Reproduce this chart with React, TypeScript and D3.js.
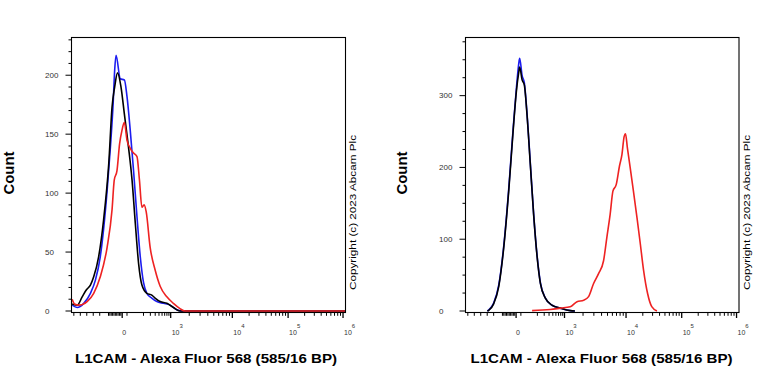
import React from 'react';
import * as d3 from 'd3';

// ---------- data (x in display channels 0-1000, y = count) ----------
const leftBlue: [number, number][] = [[2.5,5],[21,3],[44.7,6.5],[69,15],[87,26],[105,46],[117,69],[130,102],[142,139],[152,176],[157.5,204],[162.5,217],[178,197],[193,196],[202.5,182],[214.5,153],[226.5,119],[239,80],[251,46],[263,24],[275,15],[293,11],[311.6,8],[335.6,6.5],[360,5],[384,1],[402.5,0],[1000,0]];
const leftBlack: [number, number][] = [[2.5,6],[21,5],[39,12],[54.5,18],[69,22],[81,29],[99,46],[117,77],[136,125],[148,173],[157.5,190],[168,202],[180.7,190],[193,167],[208,139],[221,111],[233,74],[245,40],[257,22],[275,15],[293,13.5],[305,11],[323.6,8],[348,6.5],[372,3],[396,0],[1000,0]];
const leftRed: [number, number][] = [[2.5,10],[11,6],[26.5,5],[57,8],[81,15],[105,29],[130,54],[148,86],[156,111],[166,119],[175.6,142],[184,153],[193,160],[202.5,145],[214.5,138],[226.5,134],[239,131],[248,111],[257,88],[265,90],[272.7,84],[287,54],[305,35],[323.6,21],[348,12],[372,6.5],[396,2],[414.5,0],[1000,0]];

const rightBlue: [number, number][] = [[80,0],[85,1.5],[103,11],[121.5,36],[140,91],[158,170],[174,253],[186,310],[194.5,344],[198,352],[207,328],[215,318],[225,275],[237,206],[249,136],[262,76],[274,39],[292,18],[316.5,8],[347,4],[383,0.5],[400,0]];
const rightBlack: [number, number][] = [[80,0],[85,1],[103,10],[121.5,34],[140,89],[158,167],[174,250],[186,306],[194.5,332],[198,340],[207,322],[215,315],[225,273],[237,204],[249,135],[262,75],[274,38],[292,18],[316.5,8],[347,4],[383,0.5],[400,0]];
const rightRed: [number, number][] = [[243.5,0.5],[310,2],[347,4],[383,6],[407.7,13],[432,15],[450,20],[468,38],[486.5,52],[504.8,70],[517,103],[529,135],[539,167],[551,176],[563,202],[572,218],[580,243],[585,247],[592,227],[602,200],[614,167],[627,130],[639,94],[651,57],[666,24],[681,6],[700,0]];

const leftYMax = 232;
const rightYMax = 381;
const leftYMajor = [0, 50, 100, 150, 200];
const leftYMinorStep = 10;
const rightYMajor = [0, 100, 200, 300];
const rightYMinorStep = 25;

const xMajorTicks = [0, 1e3, 1e4, 1e5, 1e6];
const xTickLabels = [
  { v: 0, base: '0', exp: '' },
  { v: 1e3, base: '10', exp: '3' },
  { v: 1e4, base: '10', exp: '4' },
  { v: 1e5, base: '10', exp: '5' },
  { v: 1e6, base: '10', exp: '6' },
];
const xMinorTicks: number[] = [
  -600, -500, -400, -300, -200,
  -100, -90, -80, -70, -60, -50, -40, -30, -20, -10,
  50,
  200, 300, 400, 500, 600, 700, 800, 900,
  2e3, 3e3, 4e3, 5e3, 6e3, 7e3, 8e3, 9e3,
  2e4, 3e4, 4e4, 5e4, 6e4, 7e4, 8e4, 9e4,
  2e5, 3e5, 4e5, 5e5, 6e5, 7e5, 8e5, 9e5,
];

const xAxisTitle = 'L1CAM - Alexa Fluor 568 (585/16 BP)';
const yAxisTitle = 'Count';
const copyright = 'Copyright (c) 2023 Abcam Plc';

// ---------- biexponential display transform (intensity -> channel) ----------
const biexLog = d3.scaleLog().domain([100, 1e3, 1e4, 1e5, 1e6]).range([220, 362, 587, 790.5, 991]);
const biexLin = d3.scaleLinear().domain([-600, -200, -100, 0, 100]).range([8.5, 103, 135, 185, 220]);
const biex = (v: number) => (v >= 100 ? biexLog(v) : biexLin(v));

type Series = { data: [number, number][]; color: string };

function Panel(props: {
  x0: number; x1: number; top: number; bottom: number; y0: number;
  yMax: number; yMajor: number[]; yMinorStep: number; series: Series[];
  countX: number; copyX: number; titleX: number;
}) {
  const { x0, x1, top, bottom, y0, yMax, yMajor, yMinorStep, series } = props;
  const x = d3.scaleLinear().domain([0, 1000]).range([x0, x1]);
  const y = d3.scaleLinear().domain([0, yMax]).range([y0, top]);
  const line = d3.line<[number, number]>().x(d => x(d[0])).y(d => y(d[1])).curve(d3.curveMonotoneX);
  const yMinor = d3.range(0, yMax + 0.001, yMinorStep).filter(v => !yMajor.includes(v) && y(v) >= top + 1);
  return (
    <g>
      {/* curves */}
      <g fill="none" strokeWidth={1.6} strokeLinejoin="round">
        {series.map((s, i) => <path key={i} d={line(s.data) || ''} stroke={s.color} />)}
      </g>
      {/* frame */}
      <rect x={x0} y={top} width={x1 - x0} height={bottom - top} fill="none" stroke="#000" strokeWidth={1.1} />
      {/* y ticks */}
      {yMinor.map(v => <line key={'ym' + v} x1={x0 - 3} x2={x0} y1={y(v)} y2={y(v)} stroke="#000" strokeWidth={1} />)}
      {yMajor.map(v => <line key={'yM' + v} x1={x0 - 6} x2={x0} y1={y(v)} y2={y(v)} stroke="#000" strokeWidth={1} />)}
      {yMajor.map(v => (
        <text key={'yl' + v} x={x0 - 26.5} y={y(v)} dy="0.35em" fontSize={8} fill="#333" fontFamily="Liberation Sans, Arial, sans-serif">{v}</text>
      ))}
      {/* x ticks */}
      {xMinorTicks.map(v => <line key={'xm' + v} x1={x(biex(v))} x2={x(biex(v))} y1={bottom} y2={bottom + 3.3} stroke="#000" strokeWidth={1} />)}
      {xMajorTicks.map(v => <line key={'xM' + v} x1={x(biex(v))} x2={x(biex(v))} y1={bottom} y2={bottom + 5.5} stroke="#000" strokeWidth={1.3} />)}
      {xTickLabels.map(t => (
        <text key={'xl' + t.v} x={x(biex(t.v)) + (t.exp ? 1 : 0)} y={335} fontSize={7} fill="#333" fontFamily="Liberation Sans, Arial, sans-serif">
          {t.base}
          {t.exp && <tspan dy={-7} fontSize={6}>{t.exp}</tspan>}
        </text>
      ))}
      {/* titles */}
      <text x={props.titleX} y={363.3} textAnchor="middle" fontSize={13} fontWeight="bold" fill="#000"
        fontFamily="Liberation Sans, Arial, sans-serif" textLength={262} lengthAdjust="spacingAndGlyphs">{xAxisTitle}</text>
      <text transform={`translate(${props.countX},173) rotate(-90)`} textAnchor="middle" fontSize={14} fontWeight="bold" fill="#000"
        fontFamily="Liberation Sans, Arial, sans-serif" textLength={43} lengthAdjust="spacingAndGlyphs">{yAxisTitle}</text>
      <text transform={`translate(${props.copyX},212.5) rotate(-90)`} textAnchor="middle" fontSize={9.5} fill="#000"
        fontFamily="Liberation Sans, Arial, sans-serif" textLength={155} lengthAdjust="spacingAndGlyphs">{copyright}</text>
    </g>
  );
}

export default function App() {
  return (
    <svg width={768} height={384} style={{ position: 'fixed', left: 0, top: 0, background: '#fff' }}>
      <rect width={768} height={384} fill="#fff" />
      <Panel x0={71.5} x1={345.5} top={37.5} bottom={312.5} y0={311} yMax={leftYMax} yMajor={leftYMajor} yMinorStep={leftYMinorStep}
        series={[{ data: leftBlue, color: '#1c1cf0' }, { data: leftBlack, color: '#000' }, { data: leftRed, color: '#ee2222' }]}
        countX={13.5} copyX={356} titleX={206} />
      <Panel x0={465.5} x1={739} top={37.5} bottom={312.5} y0={311} yMax={rightYMax} yMajor={rightYMajor} yMinorStep={rightYMinorStep}
        series={[{ data: rightBlue, color: '#1c1cf0' }, { data: rightBlack, color: '#000' }, { data: rightRed, color: '#ee2222' }]}
        countX={407} copyX={750} titleX={601.5} />
    </svg>
  );
}
